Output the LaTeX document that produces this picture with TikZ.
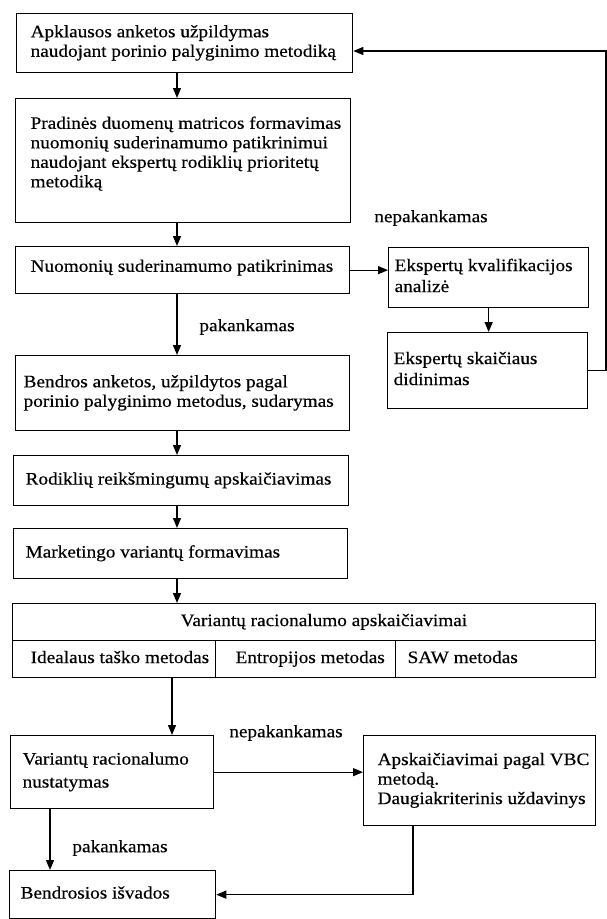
\documentclass[tikz,border=0pt]{standalone}
\usepackage{fontspec}
\setmainfont{Liberation Serif}[FakeStretch=1.1,FakeBold=0.4]
\usetikzlibrary{arrows.meta,calc}
\newcommand\bxt[3]{\makebox[#2pt][l]{\hspace*{#1pt}\begin{tabular}{@{}l@{}}#3\end{tabular}}}
\begin{document}
\begin{tikzpicture}[x=1pt,y=-1pt,
  font=\fontsize{17.5}{19.5}\selectfont,
  box/.style={draw, line width=1.3pt, inner sep=0pt, anchor=north west},
  arr/.style={-{Triangle[length=10pt,width=8pt]}, line width=1.3pt},
  lbl/.style={inner sep=0pt}]
\useasboundingbox (0,0) rectangle (607,919);
% left column
\node[box, minimum width=336pt, minimum height=59pt] (b1) at (16,13)
  {\bxt{14}{336}{Apklausos anketos užpildymas\\naudojant porinio palyginimo metodiką}};
\node[box, minimum width=335pt, minimum height=124pt] (b2) at (15,98)
  {\bxt{15}{335}{Pradinės duomenų matricos formavimas\\nuomonių suderinamumo patikrinimui\\naudojant ekspertų rodiklių prioritetų\\metodiką\\[-6.5pt]\mbox{}}};
\node[box, minimum width=334pt, minimum height=47pt] (b3) at (15,246)
  {\bxt{15}{334}{Nuomonių suderinamumo patikrinimas\\[-15pt]\mbox{}}};
\node[box, minimum width=200pt, minimum height=60pt] (b4) at (388,247)
  {\bxt{6}{200}{Ekspertų kvalifikacijos\\[1.5pt]analizė}};
\node[box, minimum width=200pt, minimum height=76pt] (b5) at (387,332)
  {\bxt{6}{200}{Ekspertų skaičiaus\\[1.5pt]didinimas}};
\node[box, minimum width=334pt, minimum height=75pt] (b6) at (15,355)
  {\bxt{8}{334}{Bendros anketos, užpildytos pagal\\porinio palyginimo metodus, sudarymas}};
\node[box, minimum width=335pt, minimum height=50pt] (b7) at (13,455)
  {\bxt{12}{335}{Rodiklių reikšmingumų apskaičiavimas}};
\node[box, minimum width=334pt, minimum height=50pt] (b8) at (13,528)
  {\bxt{12}{334}{Marketingo variantų formavimas}};
% calculations table
\node[box, minimum width=583pt, minimum height=37pt] (b9) at (12,603)
  {\bxt{168}{583}{Variantų racionalumo apskaičiavimai}};
\node[box, minimum width=203pt, minimum height=37pt] (c1) at (12,640)
  {\bxt{18}{203}{Idealaus taško metodas}};
\node[box, minimum width=180pt, minimum height=37pt] (c2) at (215,640)
  {\bxt{20}{180}{Entropijos metodas}};
\node[box, minimum width=200pt, minimum height=37pt] (c3) at (395,640)
  {\bxt{12}{200}{SAW metodas}};
% bottom part
\node[box, minimum width=203pt, minimum height=73pt] (b10) at (10,735)
  {\bxt{12}{203}{Variantų racionalumo\\[3.5pt]nustatymas}};
\node[box, minimum width=232pt, minimum height=90pt] (b11) at (363,735)
  {\bxt{14}{232}{Apskaičiavimai pagal VBC\\metodą.\\Daugiakriterinis uždavinys}};
\node[box, minimum width=206pt, minimum height=48pt] (b12) at (9,870)
  {\bxt{11}{206}{Bendrosios išvados}};
% labels
\node[lbl] (l1) at (431,218) {nepakankamas};
\node[lbl] (l2) at (247,327) {pakankamas};
\node[lbl] (l3) at (286,733) {nepakankamas};
\node[lbl] (l4) at (120,848) {pakankamas};
% helper coordinates
\coordinate (ax) at (177,0);
\coordinate (ax2) at (172,0);
\coordinate (ax3) at (50,0);
\coordinate (ax4) at (413,0);
\coordinate (fb) at (606,51);
% connectors
\draw[arr] (b1.south -| ax) -- (b2.north -| ax);
\draw[arr] (b2.south -| ax) -- (b3.north -| ax);
\draw[arr] (b3.south -| ax) -- (b6.north -| ax);
\draw[arr] (b6.south -| ax) -- (b7.north -| ax);
\draw[arr] (b7.south -| ax) -- (b8.north -| ax);
\draw[arr] (b8.south -| ax) -- (b9.north -| ax);
\draw[arr] (b3.east) -- (b3.east -| b4.west);
\draw[arr] (b4.south) -- (b4.south |- b5.north);
\draw[arr] (b5.east) -| (fb) -- (fb -| b1.east);
\draw[arr] (c1.south -| ax2) -- (b10.north -| ax2);
\draw[arr] (b10.east) -- (b10.east -| b11.west);
\draw[arr] (b10.south -| ax3) -- (b12.north -| ax3);
\draw[arr] (b11.south -| ax4) |- (b12.east);
\end{tikzpicture}
\end{document}
